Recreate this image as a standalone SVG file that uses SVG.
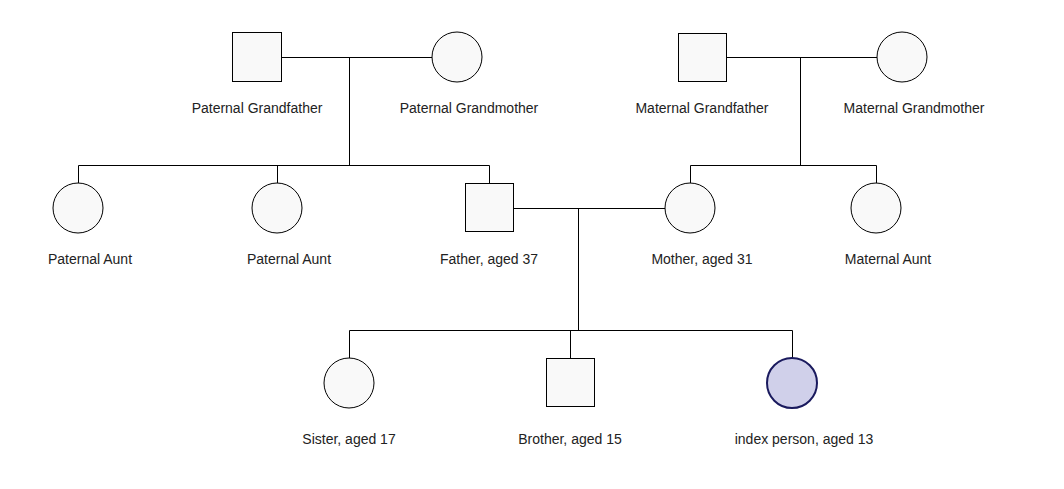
<svg xmlns="http://www.w3.org/2000/svg" width="1064" height="489" viewBox="0 0 1064 489">
<style>
.n{fill:#f9f9f9;stroke:#000;stroke-width:1}
.i{fill:#d0d0ea;stroke:#1a1a5e;stroke-width:2}
.l{fill:none;stroke:#000;stroke-width:1}
text{font-family:"Liberation Sans",Arial,sans-serif;font-size:14px;fill:#222;text-anchor:middle}
</style>
<rect width="1064" height="489" fill="#fff"/>
<g id="connectors">
<path class="l" d="M281 57.5H432M349.5 57.5V165.5M78.5 165.5H489.5M78.5 165.5V183M277.5 165.5V183M489.5 165.5V183"/>
<path class="l" d="M726 57.5H877M800.5 57.5V165.5M690.5 165.5H876.5M690.5 165.5V183M876.5 165.5V183"/>
<path class="l" d="M514 208.5H665M578.5 208.5V330.5M349.5 330.5H792.5M349.5 330.5V358M570.5 330.5V358M792.5 330.5V358"/>
</g>
<g id="pgf"><rect class="n" x="232.5" y="32.5" width="49" height="49"/><text x="257" y="113">Paternal Grandfather</text></g>
<g id="pgm"><circle class="n" cx="457" cy="57" r="25"/><text x="469" y="113">Paternal Grandmother</text></g>
<g id="mgf"><rect class="n" x="678.5" y="33.5" width="48" height="48"/><text x="702" y="113">Maternal Grandfather</text></g>
<g id="mgm"><circle class="n" cx="902" cy="57" r="25"/><text x="914" y="113">Maternal Grandmother</text></g>
<g id="pa1"><circle class="n" cx="78" cy="208" r="25"/><text x="90" y="264">Paternal Aunt</text></g>
<g id="pa2"><circle class="n" cx="277" cy="208" r="25"/><text x="289" y="264">Paternal Aunt</text></g>
<g id="father"><rect class="n" x="465.5" y="183.5" width="48" height="48"/><text x="489" y="264">Father, aged 37</text></g>
<g id="mother"><circle class="n" cx="690" cy="208" r="25"/><text x="702" y="264">Mother, aged 31</text></g>
<g id="ma"><circle class="n" cx="876" cy="208" r="25"/><text x="888" y="264">Maternal Aunt</text></g>
<g id="sister"><circle class="n" cx="349" cy="383" r="25"/><text x="349" y="444">Sister, aged 17</text></g>
<g id="brother"><rect class="n" x="546.5" y="358.5" width="48" height="48"/><text x="570" y="444">Brother, aged 15</text></g>
<g id="index"><circle class="i" cx="792" cy="383" r="25"/><text x="804" y="444">index person, aged 13</text></g>
</svg>
